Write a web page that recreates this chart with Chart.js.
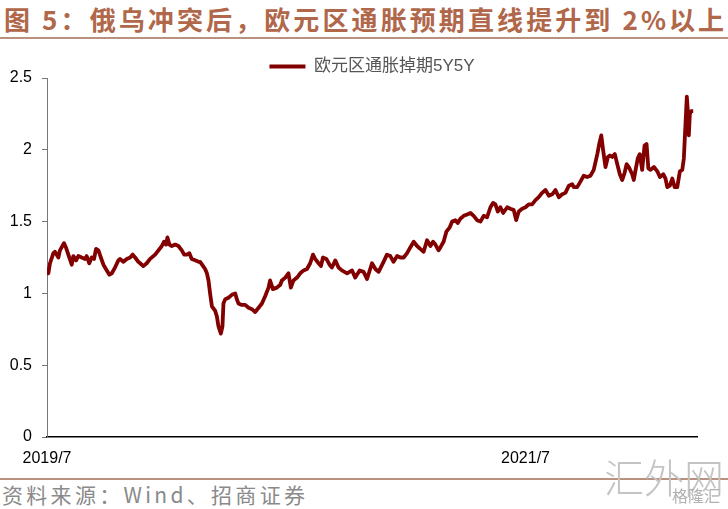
<!DOCTYPE html>
<html>
<head>
<meta charset="utf-8">
<script src="https://cdn.jsdelivr.net/npm/chart.js@4/dist/chart.umd.min.js"></script>
<style>
  html, body { margin: 0; padding: 0; background: #fff; }
  #wrap { position: relative; width: 728px; height: 509px; overflow: hidden; background: #fff; }
  #title { position: absolute; left: 4px; top: 2px; font-family: 'Noto Sans CJK SC', sans-serif; font-weight: 700; font-size: 26px; color: #b0674a; letter-spacing: 3.1px; white-space: nowrap; line-height: 34px; }
  .rule { position: absolute; left: 0; width: 728px; height: 2px; background: #b8927f; }
  #source { position: absolute; left: 2px; top: 480px; font-family: 'Noto Sans CJK SC', sans-serif; font-size: 21px; color: #8a8a8a; letter-spacing: 3.3px; white-space: nowrap; line-height: 28px; }
  #wm { position: absolute; left: 604px; top: 452px; font-family: 'Noto Sans CJK SC', sans-serif; font-weight: 300; font-size: 40px; color: #c4c4c4; white-space: nowrap; line-height: 48px; }
  #wm2 { position: absolute; left: 672px; top: 486px; font-family: 'Noto Sans CJK SC', sans-serif; font-size: 16px; color: #b0b0b0; white-space: nowrap; line-height: 18px; }
  #cv { position: absolute; left: 0; top: 40px; }
</style>
</head>
<body>
<div id="wrap">
  <div id="title">图 5：俄乌冲突后，欧元区通胀预期直线提升到 2%以上</div>
  <div class="rule" style="top:37px"></div>
  <canvas id="cv" width="728" height="434"></canvas>
  <div class="rule" style="top:478px"></div>
  <div id="source">资料来源：Wind、招商证券</div>
  <div id="wm">汇外网</div>
  <div id="wm2">格隆汇</div>
</div>
<script>
// months since 2019/7 (0 = 2019/7)
const monthIndex = [
  0.02,0.07,0.15,0.32,0.40,0.57,0.65,0.85,0.95,1.07,1.24,1.32,1.46,1.57,1.74,1.91,1.99,2.12,2.24,2.36,
  2.46,2.58,2.70,2.83,3.00,3.13,3.25,3.41,3.58,3.66,3.83,4.00,4.17,4.30,4.42,4.58,4.67,4.83,5.00,5.17,
  5.42,5.59,5.76,5.87,5.97,6.04,6.14,6.26,6.43,6.59,6.76,6.88,7.01,7.14,7.26,7.43,7.60,7.68,7.83,7.93,
  8.02,8.10,8.18,8.27,8.43,8.52,8.60,8.72,8.80,8.85,8.94,9.10,9.27,9.44,9.52,9.60,9.77,9.94,10.11,10.28,
  10.44,10.61,10.78,10.94,11.11,11.19,11.33,11.53,11.70,11.78,11.95,12.11,12.23,12.36,12.54,12.70,12.87,13.04,13.20,13.34,
  13.45,13.62,13.74,13.84,14.01,14.17,14.29,14.46,14.62,14.79,15.05,15.30,15.46,15.68,15.88,16.05,16.30,16.47,16.63,16.88,
  17.05,17.22,17.38,17.56,17.72,17.89,18.06,18.22,18.39,18.56,18.72,18.89,19.06,19.23,19.36,19.48,19.64,19.73,19.89,20.03,
  20.20,20.32,20.48,20.60,20.73,20.90,21.07,21.24,21.40,21.57,21.74,21.90,22.07,22.24,22.37,22.49,22.61,22.74,22.88,23.08,
  23.24,23.41,23.53,23.66,23.83,24.00,24.16,24.33,24.50,24.66,24.83,25.00,25.17,25.34,25.50,25.67,25.84,26.00,26.17,26.34,
  26.42,26.59,26.76,26.92,27.09,27.26,27.42,27.60,27.71,27.80,27.90,28.01,28.13,28.23,28.35,28.48,28.60,28.73,28.85,28.97,
  29.07,29.18,29.35,29.43,29.52,29.63,29.73,29.85,29.97,30.07,30.16,30.27,30.44,30.61,30.74,30.91,31.02,31.11,31.24,31.36,
  31.48,31.61,31.74,31.86,31.94,32.03,32.09,32.14,32.19,32.24,32.31,32.41
];
// Euro area inflation swap 5Y5Y (%)
const swap5y5y = [
  1.18,1.14,1.21,1.28,1.29,1.25,1.30,1.35,1.32,1.27,1.20,1.26,1.23,1.26,1.25,1.24,1.26,1.21,1.25,1.24,
  1.31,1.30,1.25,1.20,1.16,1.13,1.14,1.18,1.23,1.24,1.22,1.24,1.25,1.27,1.25,1.22,1.21,1.19,1.21,1.24,
  1.27,1.30,1.33,1.36,1.34,1.39,1.34,1.33,1.34,1.33,1.30,1.27,1.27,1.28,1.24,1.23,1.22,1.22,1.19,1.17,
  1.14,1.09,1.00,0.91,0.88,0.84,0.77,0.72,0.77,0.93,0.96,0.97,0.99,1.00,0.96,0.93,0.92,0.92,0.90,0.89,
  0.87,0.90,0.93,0.98,1.04,1.09,1.03,1.04,1.06,1.09,1.11,1.14,1.04,1.09,1.11,1.14,1.16,1.17,1.21,1.27,
  1.24,1.21,1.19,1.25,1.24,1.20,1.18,1.23,1.18,1.16,1.14,1.16,1.11,1.16,1.15,1.10,1.21,1.17,1.15,1.22,
  1.27,1.26,1.22,1.26,1.25,1.25,1.28,1.32,1.36,1.33,1.31,1.29,1.37,1.33,1.36,1.34,1.30,1.32,1.36,1.43,
  1.46,1.50,1.51,1.49,1.52,1.54,1.55,1.56,1.54,1.51,1.50,1.54,1.53,1.60,1.63,1.62,1.57,1.60,1.56,1.60,
  1.59,1.58,1.51,1.57,1.59,1.60,1.62,1.62,1.65,1.67,1.70,1.72,1.68,1.69,1.72,1.67,1.69,1.70,1.75,1.76,
  1.74,1.74,1.78,1.82,1.81,1.82,1.86,1.97,2.05,2.10,1.99,1.88,1.95,1.96,1.95,1.97,1.90,1.83,1.79,1.84,
  1.90,1.88,1.83,1.79,1.86,1.94,1.97,1.86,2.03,2.04,1.87,1.86,1.88,1.85,1.81,1.83,1.80,1.74,1.75,1.80,
  1.74,1.74,1.85,1.86,1.94,2.20,2.37,2.27,2.10,2.25,2.27,2.27
];
const seriesName = '欧元区通胀掉期5Y5Y';
const xTickMonths = [0, 24];
const yTicks = [0, 0.5, 1, 1.5, 2, 2.5];

const points = monthIndex.map((m, i) => ({ x: m, y: swap5y5y[i] }));
const lineColor = '#820000';
const fontFam = "'Liberation Sans', Arial, 'Noto Sans CJK SC', sans-serif";

function monthLabel(v) {
  const total = 6 + Math.round(v);
  return (2019 + Math.floor(total / 12)) + '/' + (total % 12 + 1);
}

const legendShrink = {
  id: 'legendShrink',
  beforeInit(chart) {
    const lg = chart.legend;
    const orig = lg.fit;
    lg.fit = function () { orig.call(this); this.height -= 7; };
  }
};

new Chart(document.getElementById('cv'), {
  type: 'line',
  data: {
    datasets: [{
      label: seriesName,
      data: points,
      borderColor: lineColor,
      backgroundColor: lineColor,
      borderWidth: 3.8,
      pointRadius: 0,
      tension: 0,
      borderJoinStyle: 'round'
    }]
  },
  plugins: [legendShrink],
  options: {
    responsive: false,
    animation: false,
    devicePixelRatio: 1,
    layout: { padding: { top: 14, right: 31, bottom: 0, left: 0 } },
    plugins: {
      tooltip: { enabled: false },
      legend: {
        display: true,
        position: 'top',
        fullSize: false,
        labels: {
          boxWidth: 36,
          boxHeight: 4,
          padding: 4,
          color: '#555',
          font: { family: fontFam, size: 17 },
          generateLabels: (chart) => Chart.defaults.plugins.legend.labels.generateLabels(chart).map(l => Object.assign(l, { lineWidth: 0 }))
        }
      }
    },
    scales: {
      x: {
        type: 'linear',
        min: 0,
        max: 32.6,
        afterBuildTicks: (s) => { s.ticks = xTickMonths.map(v => ({ value: v })); },
        afterFit: (s) => { s.height = 37; },
        ticks: {
          autoSkip: false,
          maxRotation: 0,
          padding: 12,
          color: '#000',
          font: { family: fontFam, size: 16 },
          callback: (v) => monthLabel(v)
        },
        grid: { display: true, drawOnChartArea: false, drawTicks: false },
        border: { display: true, color: '#000', width: 1.5 }
      },
      y: {
        min: 0,
        max: 2.5,
        afterBuildTicks: (s) => { s.ticks = yTicks.map(v => ({ value: v })); },
        afterFit: (s) => { s.width = 47; },
        ticks: {
          padding: 10,
          color: '#000',
          font: { family: fontFam, size: 16 },
          callback: (v) => String(v)
        },
        grid: { display: true, drawOnChartArea: false, drawTicks: true, tickLength: 5, color: '#777', lineWidth: 1 },
        border: { display: true, color: '#777', width: 1 }
      }
    }
  }
});
</script>
</body>
</html>
